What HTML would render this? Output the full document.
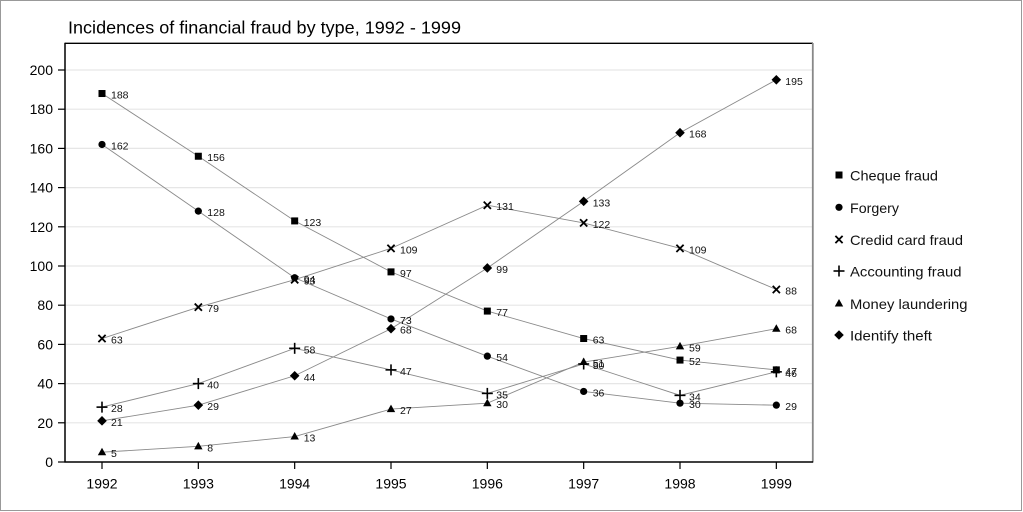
<!DOCTYPE html>
<html><head><meta charset="utf-8"><style>
html,body{margin:0;padding:0;background:#fff;}
svg{display:block;font-family:"Liberation Sans",sans-serif;}
</style></head><body>
<svg width="1023" height="512" viewBox="0 0 1023 512" xmlns="http://www.w3.org/2000/svg">
<defs>
<rect id="sq" x="-3.5" y="-3.5" width="7" height="7" fill="#000"/>
<circle id="ci" r="3.6" fill="#000"/>
<g id="xx" stroke="#000" stroke-width="1.8"><line x1="-3.6" y1="-3.6" x2="3.6" y2="3.6"/><line x1="-3.6" y1="3.6" x2="3.6" y2="-3.6"/></g>
<g id="pl" stroke="#000" stroke-width="1.6"><line x1="-5.5" y1="0" x2="5.5" y2="0"/><line x1="0" y1="-5.5" x2="0" y2="5.5"/></g>
<polygon id="tr" points="0,-4.5 4.2,3 -4.2,3" fill="#000"/>
<polygon id="di" points="0,-4.8 4.8,0 0,4.8 -4.8,0" fill="#000"/>
</defs>
<rect x="0.5" y="0.5" width="1021" height="510" fill="#fff" stroke="#999" stroke-width="1"/>
<text x="68" y="33.5" font-size="17.5" fill="#000" textLength="393" lengthAdjust="spacingAndGlyphs">Incidences of financial fraud by type, 1992 - 1999</text>

<g stroke="#e6e6e6" stroke-width="1.2">
<line x1="65" x2="812" y1="422.8" y2="422.8"/>
<line x1="65" x2="812" y1="383.6" y2="383.6"/>
<line x1="65" x2="812" y1="344.4" y2="344.4"/>
<line x1="65" x2="812" y1="305.2" y2="305.2"/>
<line x1="65" x2="812" y1="266" y2="266"/>
<line x1="65" x2="812" y1="226.8" y2="226.8"/>
<line x1="65" x2="812" y1="187.6" y2="187.6"/>
<line x1="65" x2="812" y1="148.4" y2="148.4"/>
<line x1="65" x2="812" y1="109.2" y2="109.2"/>
<line x1="65" x2="812" y1="70" y2="70"/>
</g>

<!-- frame -->
<line x1="65" y1="43.3" x2="813" y2="43.3" stroke="#000" stroke-width="1.3"/>
<line x1="812.8" y1="43" x2="812.8" y2="462.5" stroke="#888" stroke-width="1.8"/>
<line x1="65" y1="42.7" x2="65" y2="462.5" stroke="#000" stroke-width="1.5"/>
<line x1="64.5" y1="462" x2="813" y2="462" stroke="#000" stroke-width="1.5"/>

<!-- y ticks -->
<g stroke="#000" stroke-width="1.2">
<line x1="58" x2="65" y1="462" y2="462"/>
<line x1="58" x2="65" y1="422.8" y2="422.8"/>
<line x1="58" x2="65" y1="383.6" y2="383.6"/>
<line x1="58" x2="65" y1="344.4" y2="344.4"/>
<line x1="58" x2="65" y1="305.2" y2="305.2"/>
<line x1="58" x2="65" y1="266" y2="266"/>
<line x1="58" x2="65" y1="226.8" y2="226.8"/>
<line x1="58" x2="65" y1="187.6" y2="187.6"/>
<line x1="58" x2="65" y1="148.4" y2="148.4"/>
<line x1="58" x2="65" y1="109.2" y2="109.2"/>
<line x1="58" x2="65" y1="70" y2="70"/>
</g>
<g font-size="14" text-anchor="end" fill="#000">
<text x="53" y="467">0</text>
<text x="53" y="427.8">20</text>
<text x="53" y="388.6">40</text>
<text x="53" y="349.4">60</text>
<text x="53" y="310.2">80</text>
<text x="53" y="271">100</text>
<text x="53" y="231.8">120</text>
<text x="53" y="192.6">140</text>
<text x="53" y="153.4">160</text>
<text x="53" y="114.2">180</text>
<text x="53" y="75">200</text>
</g>
<!-- x ticks -->
<g stroke="#000" stroke-width="1.2">
<line x1="102" x2="102" y1="462" y2="469"/>
<line x1="198.33" x2="198.33" y1="462" y2="469"/>
<line x1="294.67" x2="294.67" y1="462" y2="469"/>
<line x1="391" x2="391" y1="462" y2="469"/>
<line x1="487.33" x2="487.33" y1="462" y2="469"/>
<line x1="583.67" x2="583.67" y1="462" y2="469"/>
<line x1="680" x2="680" y1="462" y2="469"/>
<line x1="776.33" x2="776.33" y1="462" y2="469"/>
</g>
<g font-size="14" text-anchor="middle" fill="#000">
<text x="102" y="488.5">1992</text>
<text x="198.33" y="488.5">1993</text>
<text x="294.67" y="488.5">1994</text>
<text x="391" y="488.5">1995</text>
<text x="487.33" y="488.5">1996</text>
<text x="583.67" y="488.5">1997</text>
<text x="680" y="488.5">1998</text>
<text x="776.33" y="488.5">1999</text>
</g>

<!-- series lines -->
<g fill="none" stroke="#8a8a8a" stroke-width="0.9">
<polyline points="102,93.52 198.33,156.24 294.67,220.92 391,271.88 487.33,311.08 583.67,338.52 680,360.08 776.33,369.88"/>
<polyline points="102,144.48 198.33,211.12 294.67,277.76 391,318.92 487.33,356.16 583.67,391.44 680,403.2 776.33,405.16"/>
<polyline points="102,338.52 198.33,307.16 294.67,279.72 391,248.36 487.33,205.24 583.67,222.88 680,248.36 776.33,289.52"/>
<polyline points="102,407.12 198.33,383.6 294.67,348.32 391,369.88 487.33,393.4 583.67,364 680,395.36 776.33,371.84"/>
<polyline points="102,452.2 198.33,446.32 294.67,436.52 391,409.08 487.33,403.2 583.67,362.04 680,346.36 776.33,328.72"/>
<polyline points="102,420.84 198.33,405.16 294.67,375.76 391,328.72 487.33,267.96 583.67,201.32 680,132.72 776.33,79.8"/>
</g>

<!-- markers -->
<g>
<use href="#sq" x="102" y="93.52"/><use href="#sq" x="198.33" y="156.24"/><use href="#sq" x="294.67" y="220.92"/><use href="#sq" x="391" y="271.88"/><use href="#sq" x="487.33" y="311.08"/><use href="#sq" x="583.67" y="338.52"/><use href="#sq" x="680" y="360.08"/><use href="#sq" x="776.33" y="369.88"/>
<use href="#ci" x="102" y="144.48"/><use href="#ci" x="198.33" y="211.12"/><use href="#ci" x="294.67" y="277.76"/><use href="#ci" x="391" y="318.92"/><use href="#ci" x="487.33" y="356.16"/><use href="#ci" x="583.67" y="391.44"/><use href="#ci" x="680" y="403.2"/><use href="#ci" x="776.33" y="405.16"/>
<use href="#xx" x="102" y="338.52"/><use href="#xx" x="198.33" y="307.16"/><use href="#xx" x="294.67" y="279.72"/><use href="#xx" x="391" y="248.36"/><use href="#xx" x="487.33" y="205.24"/><use href="#xx" x="583.67" y="222.88"/><use href="#xx" x="680" y="248.36"/><use href="#xx" x="776.33" y="289.52"/>
<use href="#pl" x="102" y="407.12"/><use href="#pl" x="198.33" y="383.6"/><use href="#pl" x="294.67" y="348.32"/><use href="#pl" x="391" y="369.88"/><use href="#pl" x="487.33" y="393.4"/><use href="#pl" x="583.67" y="364"/><use href="#pl" x="680" y="395.36"/><use href="#pl" x="776.33" y="371.84"/>
<use href="#tr" x="102" y="452.2"/><use href="#tr" x="198.33" y="446.32"/><use href="#tr" x="294.67" y="436.52"/><use href="#tr" x="391" y="409.08"/><use href="#tr" x="487.33" y="403.2"/><use href="#tr" x="583.67" y="362.04"/><use href="#tr" x="680" y="346.36"/><use href="#tr" x="776.33" y="328.72"/>
<use href="#di" x="102" y="420.84"/><use href="#di" x="198.33" y="405.16"/><use href="#di" x="294.67" y="375.76"/><use href="#di" x="391" y="328.72"/><use href="#di" x="487.33" y="267.96"/><use href="#di" x="583.67" y="201.32"/><use href="#di" x="680" y="132.72"/><use href="#di" x="776.33" y="79.8"/>
</g>

<!-- data labels -->
<g font-size="10.5" fill="#111">
<text x="111" y="98.5">188</text><text x="207.3" y="161.2">156</text><text x="303.7" y="225.9">123</text><text x="400" y="276.9">97</text><text x="496.3" y="316.1">77</text><text x="592.7" y="343.5">63</text><text x="689" y="365.1">52</text><text x="785.3" y="374.9">47</text>
<text x="111" y="149.5">162</text><text x="207.3" y="216.1">128</text><text x="303.7" y="282.8">94</text><text x="400" y="323.9">73</text><text x="496.3" y="361.2">54</text><text x="592.7" y="396.4">36</text><text x="689" y="408.2">30</text><text x="785.3" y="410.2">29</text>
<text x="111" y="343.5">63</text><text x="207.3" y="312.2">79</text><text x="303.7" y="284.7">93</text><text x="400" y="253.4">109</text><text x="496.3" y="210.2">131</text><text x="592.7" y="227.9">122</text><text x="689" y="253.4">109</text><text x="785.3" y="294.5">88</text>
<text x="111" y="412.1">28</text><text x="207.3" y="388.6">40</text><text x="303.7" y="353.3">58</text><text x="400" y="374.9">47</text><text x="496.3" y="398.4">35</text><text x="592.7" y="369">50</text><text x="689" y="400.4">34</text><text x="785.3" y="376.8">46</text>
<text x="111" y="457.2">5</text><text x="207.3" y="451.3">8</text><text x="303.7" y="441.5">13</text><text x="400" y="414.1">27</text><text x="496.3" y="408.2">30</text><text x="592.7" y="367">51</text><text x="689" y="351.4">59</text><text x="785.3" y="333.7">68</text>
<text x="111" y="425.8">21</text><text x="207.3" y="410.2">29</text><text x="303.7" y="380.8">44</text><text x="400" y="333.7">68</text><text x="496.3" y="273">99</text><text x="592.7" y="206.3">133</text><text x="689" y="137.7">168</text><text x="785.3" y="84.8">195</text>
</g>

<!-- legend -->
<g>
<use href="#sq" x="839" y="175" transform="translate(0,0)"/>
<use href="#ci" x="839" y="207.3"/>
<use href="#xx" x="839" y="239.5"/>
<use href="#pl" x="839" y="271"/>
<use href="#tr" x="839" y="303.5"/>
<use href="#di" x="839" y="335"/>
</g>
<g font-size="14" fill="#111">
<text x="850" y="180.5" textLength="88" lengthAdjust="spacingAndGlyphs">Cheque fraud</text>
<text x="850" y="212.8" textLength="49" lengthAdjust="spacingAndGlyphs">Forgery</text>
<text x="850" y="245" textLength="113" lengthAdjust="spacingAndGlyphs">Credid card fraud</text>
<text x="850" y="276.5" textLength="111.5" lengthAdjust="spacingAndGlyphs">Accounting fraud</text>
<text x="850" y="309" textLength="117.5" lengthAdjust="spacingAndGlyphs">Money laundering</text>
<text x="850" y="340.5" textLength="82" lengthAdjust="spacingAndGlyphs">Identify theft</text>
</g>
</svg>
</body></html>
